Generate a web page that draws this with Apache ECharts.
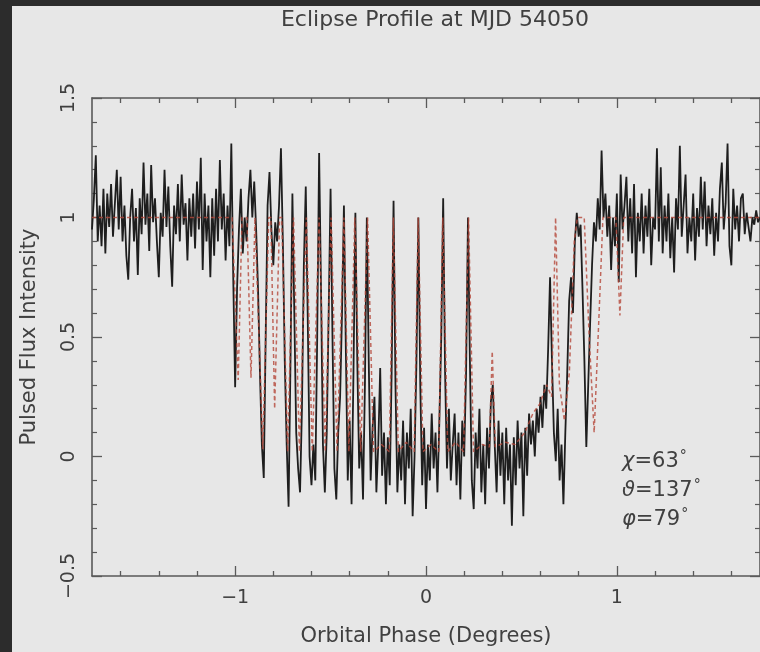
<!DOCTYPE html>
<html>
<head>
<meta charset="utf-8">
<script src="https://cdn.jsdelivr.net/npm/echarts@6/dist/echarts.min.js"></script>
<style>
html,body{margin:0;padding:0;background:#e7e7e7;}
#chart{width:760px;height:652px;}
</style>
</head>
<body>
<div id="chart"></div>
<script>
// ---- data ----
const titleText = 'Eclipse Profile at MJD 54050';
const xName = 'Orbital Phase (Degrees)';
const yName = 'Pulsed Flux Intensity';
const xMajorTicks = [-1, 0, 1];
const xMinorTicks = [-1.6, -1.4, -1.2, -0.8, -0.6, -0.4, -0.2, 0.2, 0.4, 0.6, 0.8, 1.2, 1.4, 1.6];
const yMin = -0.5, yMax = 1.5, yStep = 0.5;
const xMin = -1.75, xMax = 1.75;
// observed pulsed flux, sampled every 0.01 deg from -1.75
const phaseStart = -1.75, phaseStep = 0.01;
const pulsedFlux = [
0.95,1.08,1.26,0.90,1.05,0.88,1.12,0.85,1.10,0.96,
1.14,0.92,1.06,1.20,0.95,1.17,0.90,1.05,0.84,0.74,
1.00,1.12,0.90,1.04,0.76,1.08,0.93,1.23,0.97,1.10,
0.86,1.22,0.98,1.08,0.90,0.75,1.02,0.92,1.20,0.96,
1.13,0.88,0.71,1.05,0.93,1.14,0.90,1.18,0.97,1.06,
0.82,1.08,0.92,1.10,0.87,1.15,0.95,1.25,0.78,1.10,
0.90,1.05,0.75,1.08,0.84,1.12,0.90,1.24,0.95,1.10,
0.82,1.05,0.88,1.31,0.75,0.29,0.70,0.95,1.12,0.85,
1.00,0.90,1.08,1.20,1.00,1.15,0.95,0.70,0.35,0.05,
-0.09,0.50,1.05,1.19,0.95,0.80,0.98,0.90,1.05,1.29,
0.90,0.40,0.05,-0.21,0.40,1.10,0.60,0.10,-0.05,-0.15,
0.20,0.80,1.13,0.60,0.00,-0.12,0.05,-0.10,0.50,1.27,
0.70,0.05,-0.15,0.10,0.60,1.12,0.50,-0.05,-0.18,0.10,
0.25,0.60,1.05,0.45,-0.10,0.15,-0.20,0.35,1.02,0.40,
-0.05,0.10,-0.18,0.30,1.00,0.40,-0.10,0.12,0.25,-0.15,
0.05,0.37,-0.08,0.10,-0.20,0.08,-0.12,0.35,1.07,0.30,
-0.15,0.05,-0.10,0.15,-0.20,0.10,-0.05,0.20,-0.25,0.00,
0.40,1.00,0.30,-0.12,0.12,-0.22,0.05,-0.10,0.18,-0.05,
0.10,-0.15,0.15,0.50,1.08,0.35,-0.05,0.20,-0.10,0.05,
0.18,-0.12,0.10,-0.18,0.15,0.00,0.35,1.00,0.40,-0.10,
-0.22,0.10,-0.05,0.20,-0.15,0.05,-0.20,0.12,-0.05,0.23,
0.30,0.05,-0.15,0.15,-0.08,0.10,-0.20,0.12,-0.10,0.05,
-0.29,0.08,-0.12,0.15,-0.05,0.10,-0.25,0.12,-0.08,0.18,
0.05,0.15,0.00,0.20,0.10,0.25,0.12,0.30,0.20,0.45,
0.75,0.40,0.10,-0.02,0.20,-0.10,0.05,-0.20,0.10,0.35,
0.65,0.75,0.60,0.90,1.02,0.92,0.97,0.70,0.40,0.04,
0.30,0.56,0.80,0.98,0.90,1.08,0.95,1.28,1.00,1.10,
0.92,1.05,0.78,1.00,0.88,1.10,0.73,1.18,0.95,1.05,
1.17,0.90,1.08,0.85,1.14,0.75,1.02,0.90,1.10,0.85,
1.05,0.92,1.12,0.80,1.00,0.95,1.29,0.90,1.21,0.85,
1.05,0.90,1.10,0.83,1.00,0.77,1.08,0.95,1.30,0.92,
1.05,1.18,0.85,1.00,0.90,1.10,0.82,1.04,0.92,1.17,
0.95,1.15,0.88,1.05,0.93,1.08,0.84,1.02,0.90,1.12,
1.23,0.95,1.06,1.31,0.88,0.80,1.12,0.95,1.05,0.90,
1.08,1.10,0.93,1.02,0.96,0.90,1.00,0.97,1.03,0.98,
1.00
];
// model (red dashed) profile
const modelPhase = [
-1.75,-1.016,-0.984,-0.964,-0.938,-0.917,-0.896,-0.886,-0.855,-0.824,
-0.813,-0.793,-0.767,-0.756,-0.725,-0.694,-0.663,-0.627,-0.596,-0.560,
-0.528,-0.497,-0.466,-0.430,-0.404,-0.373,-0.342,-0.306,-0.275,-0.233,
-0.192,-0.171,-0.145,-0.104,-0.062,-0.041,-0.016,0.026,0.067,0.088,
0.114,0.155,0.197,0.223,0.249,0.295,0.332,0.347,0.363,0.415,
0.466,0.518,0.560,0.596,0.632,0.658,0.679,0.699,0.725,0.751,
0.777,0.793,0.829,0.855,0.881,0.907,0.927,0.995,1.016,1.036,
1.75
];
const modelFlux = [
1.00,1.00,0.32,1.00,1.00,0.33,1.00,1.00,0.03,1.00,
1.00,0.20,1.00,1.00,0.02,1.00,0.02,1.00,0.02,1.00,
0.02,1.00,0.02,1.00,0.02,1.00,0.02,1.00,0.02,0.05,
0.02,1.00,0.02,0.06,0.02,1.00,0.02,0.05,0.02,1.00,
0.02,0.06,0.02,1.00,0.02,0.05,0.04,0.44,0.04,0.06,
0.05,0.10,0.18,0.22,0.30,0.25,1.00,0.30,0.15,0.35,
0.90,1.00,1.00,0.50,0.10,0.60,1.00,1.00,0.59,1.00,
1.00
];
const annotations = [
  {sym: 'χ', val: '63'},
  {sym: 'ϑ', val: '137'},
  {sym: 'φ', val: '79'}
];

// ---- build ----
const obsData = pulsedFlux.map((v, i) => [+(phaseStart + i * phaseStep).toFixed(3), v]);
const modelData = modelPhase.map((p, i) => [p, modelFlux[i]]);
const minus = v => String(v).replace('-', '\u2212');
const txt = '#404040';
const font = 'DejaVu Sans';
const axisLineStyle = {color: '#5a5a5a', width: 1.6};

function xAx(pos, ticks, len, showLine, labels) {
  return {
    type: 'value', position: pos, min: xMin, max: xMax,
    axisLine: {show: showLine, onZero: false, lineStyle: axisLineStyle},
    axisTick: {show: true, inside: true, length: len, customValues: ticks, lineStyle: {color: '#5a5a5a', width: 1.3}},
    axisLabel: labels ? {show: true, customValues: xMajorTicks, formatter: minus, color: txt, fontFamily: font, fontSize: 19, margin: 13} : {show: false},
    splitLine: {show: false},
    name: labels ? xName : '', nameLocation: 'middle', nameGap: 50,
    nameTextStyle: {color: txt, fontFamily: font, fontSize: 21}
  };
}
function yAx(pos, labels) {
  return {
    type: 'value', position: pos, min: yMin, max: yMax, interval: yStep,
    axisLine: {show: true, onZero: false, lineStyle: axisLineStyle},
    axisTick: {show: true, inside: true, length: 10, lineStyle: {color: '#5a5a5a', width: 1.3}},
    minorTick: {show: true, splitNumber: 5, length: 5, lineStyle: {color: '#5a5a5a', width: 1.2}},
    axisLabel: labels ? {show: true, rotate: 90, formatter: minus, color: txt, fontFamily: font, fontSize: 19, margin: 13} : {show: false},
    splitLine: {show: false},
    name: labels ? yName : '', nameLocation: 'middle', nameGap: 52,
    nameTextStyle: {color: txt, fontFamily: font, fontSize: 21}
  };
}

const chart = echarts.init(document.getElementById('chart'), null, {renderer: 'canvas'});
chart.setOption({
  backgroundColor: '#e7e7e7',
  animation: false,
  title: {
    text: titleText, left: 430, top: 4, textAlign: 'center',
    textStyle: {color: txt, fontFamily: font, fontSize: 22, fontWeight: 'normal'}
  },
  grid: {left: 92, top: 98, width: 675.5, height: 479, containLabel: false},
  xAxis: [
    xAx('bottom', xMajorTicks, 10, true, true),
    xAx('bottom', xMinorTicks, 5, false, false),
    xAx('top', xMajorTicks, 10, true, false),
    xAx('top', xMinorTicks, 5, false, false)
  ],
  yAxis: [yAx('left', true), yAx('right', false)],
  series: [
    {
      type: 'line', name: 'observed', xAxisIndex: 0, yAxisIndex: 0,
      data: obsData, showSymbol: false, symbol: 'none',
      lineStyle: {color: '#1e1e1e', width: 1.8}, z: 2
    },
    {
      type: 'line', name: 'model', xAxisIndex: 0, yAxisIndex: 0,
      data: modelData, showSymbol: false, symbol: 'none',
      lineStyle: {color: '#b5473a', width: 1.5, type: [4, 3], opacity: 0.8}, z: 3
    }
  ],
  graphic: [
    {type: 'rect', left: 0, top: 0, shape: {width: 12, height: 652}, style: {fill: '#2c2c2c'}, z: 100},
    {type: 'rect', left: 0, top: 0, shape: {width: 760, height: 6}, style: {fill: '#2c2c2c'}, z: 100}
  ].concat(annotations.map((a, k) => ({
    type: 'text', left: 622, top: 449 + k * 29, z: 100,
    style: {
      text: '{g|' + a.sym + '}{t|=' + a.val + '}{d|°}',
      rich: {
        g: {fontFamily: font, fontSize: 21, fontStyle: 'italic', fill: txt},
        t: {fontFamily: font, fontSize: 21, fill: txt},
        d: {fontFamily: font, fontSize: 14, fill: txt, verticalAlign: 'top', padding: [0, 0, 12, 1]}
      }
    }
  })))
});
</script>
</body>
</html>
